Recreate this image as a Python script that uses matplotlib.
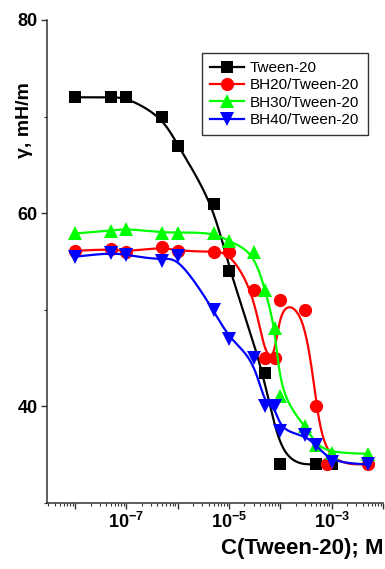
import numpy as np
import matplotlib
matplotlib.use("Agg")
import matplotlib.pyplot as plt
from matplotlib.ticker import FuncFormatter, MultipleLocator, LogLocator, NullFormatter

plt.rcParams['font.family'] = ['Liberation Sans', 'DejaVu Sans']
plt.rcParams['mathtext.fontset'] = 'custom'
plt.rcParams['mathtext.rm'] = 'Liberation Sans'
plt.rcParams['mathtext.bf'] = 'Liberation Sans:bold'

# ---- data ----
tween_x = [1e-8, 5e-8, 1e-7, 5e-7, 1e-6, 5e-6, 1e-5, 5e-5, 1e-4, 5e-4, 1e-3]
tween_y = [72.0, 72.0, 72.0, 70.0, 67.0, 61.0, 54.0, 43.5, 34.0, 34.0, 34.0]

bh20_x = [1e-8, 5e-8, 1e-7, 5e-7, 1e-6, 5e-6, 1e-5, 3e-5, 5e-5, 8e-5, 1e-4, 3e-4, 5e-4, 8e-4, 5e-3]
bh20_y = [56.1, 56.3, 56.0, 56.5, 56.1, 56.0, 56.0, 52.0, 45.0, 45.0, 51.0, 50.0, 40.0, 34.0, 34.0]

bh30_x = [1e-8, 5e-8, 1e-7, 5e-7, 1e-6, 5e-6, 1e-5, 3e-5, 5e-5, 8e-5, 1e-4, 3e-4, 5e-4, 1e-3, 5e-3]
bh30_y = [57.9, 58.2, 58.4, 58.0, 58.0, 58.0, 57.1, 56.0, 52.1, 48.1, 41.1, 38.0, 36.0, 35.2, 35.1]

bh40_x = [1e-8, 5e-8, 1e-7, 5e-7, 1e-6, 5e-6, 1e-5, 3e-5, 5e-5, 8e-5, 1e-4, 3e-4, 5e-4, 1e-3, 5e-3]
bh40_y = [55.5, 55.9, 55.7, 55.1, 55.6, 50.0, 47.0, 45.0, 40.0, 40.0, 37.5, 37.0, 36.0, 34.2, 34.0]

labels = ['Tween-20', 'BH20/Tween-20', 'BH30/Tween-20', 'BH40/Tween-20']
colors = ['#000000', '#ff0000', '#00ff00', '#0000ff']
markers = ['s', 'o', '^', 'v']

xlabel = 'C(Tween-20); M'
ylabel = 'γ, mH/m'


def bspline(xs, ys, n=60):
    """Uniform cubic B-spline (clamped) in log10(x) space, using points as control points."""
    P = np.column_stack([np.log10(xs), ys])
    Q = np.vstack([P[0], P[0], P, P[-1], P[-1]])
    t = np.linspace(0, 1, n)[:, None]
    b0 = (1 - t) ** 3 / 6
    b1 = (3 * t ** 3 - 6 * t ** 2 + 4) / 6
    b2 = (-3 * t ** 3 + 3 * t ** 2 + 3 * t + 1) / 6
    b3 = t ** 3 / 6
    segs = [b0 * Q[i] + b1 * Q[i + 1] + b2 * Q[i + 2] + b3 * Q[i + 3] for i in range(len(Q) - 3)]
    pts = np.vstack(segs)
    return 10 ** pts[:, 0], pts[:, 1]


fig = plt.figure(figsize=(3.85, 5.69), dpi=100)
ax = fig.add_axes([46.7 / 385, 66 / 569, 336.3 / 385, 483 / 569])

series = [(tween_x, tween_y), (bh20_x, bh20_y), (bh30_x, bh30_y), (bh40_x, bh40_y)]
for (xs, ys), lab, c, m in zip(series, labels, colors, markers):
    cx, cy = bspline(xs, ys)
    ms = 8.5 if m == 's' else (9.5 if m == 'o' else 10.5)
    ax.plot(cx, cy, '-', color=c, lw=1.6)
    ax.plot(xs, ys, linestyle='none', marker=m, color=c, ms=ms, mec=c, mew=0)
    ax.plot([], [], '-', color=c, lw=1.6, marker=m, ms=ms, mec=c, mew=0, label=lab)

ax.set_xscale('log')
ax.set_xlim(2.8e-9, 1e-2)
ax.set_ylim(30, 80)

ax.xaxis.set_major_locator(LogLocator(base=10, numticks=20))
ax.xaxis.set_minor_locator(LogLocator(base=10, subs=np.arange(2, 10), numticks=100))
ax.xaxis.set_minor_formatter(NullFormatter())


def xfmt(v, pos):
    e = int(round(np.log10(v)))
    if e % 2 == 0:
        return ''
    return r'$\mathbf{10^{%d}}$' % e


ax.xaxis.set_major_formatter(FuncFormatter(xfmt))
ax.yaxis.set_major_locator(MultipleLocator(20))
ax.yaxis.set_minor_locator(MultipleLocator(10))

for s in ['top', 'right']:
    ax.spines[s].set_visible(False)
for s in ['left', 'bottom']:
    ax.spines[s].set_color('#333333')
    ax.spines[s].set_linewidth(1.1)

ax.tick_params(axis='both', which='major', length=4.5, width=1, color='#333333', labelsize=13, pad=2)
ax.tick_params(axis='both', which='minor', length=2.5, width=0.8, color='#333333')
for lbl in ax.get_yticklabels():
    lbl.set_fontweight('bold')

ax.set_xlabel(xlabel, fontsize=16, fontweight='bold', loc='right')
ax.set_ylabel(ylabel, fontsize=14, fontweight='bold')
ax.yaxis.set_label_coords(-0.065, 0.793)
ax.yaxis.label.set_va('center')

leg = ax.legend(loc='upper right', bbox_to_anchor=(0.955, 0.932), fontsize=11,
                frameon=True, fancybox=False, edgecolor='#333333', framealpha=1,
                handlelength=2.2, handletextpad=0.4, labelspacing=0.21, borderpad=0.55,
                borderaxespad=0)
leg.get_frame().set_linewidth(1.0)

fig.savefig('out.png', dpi=100)
